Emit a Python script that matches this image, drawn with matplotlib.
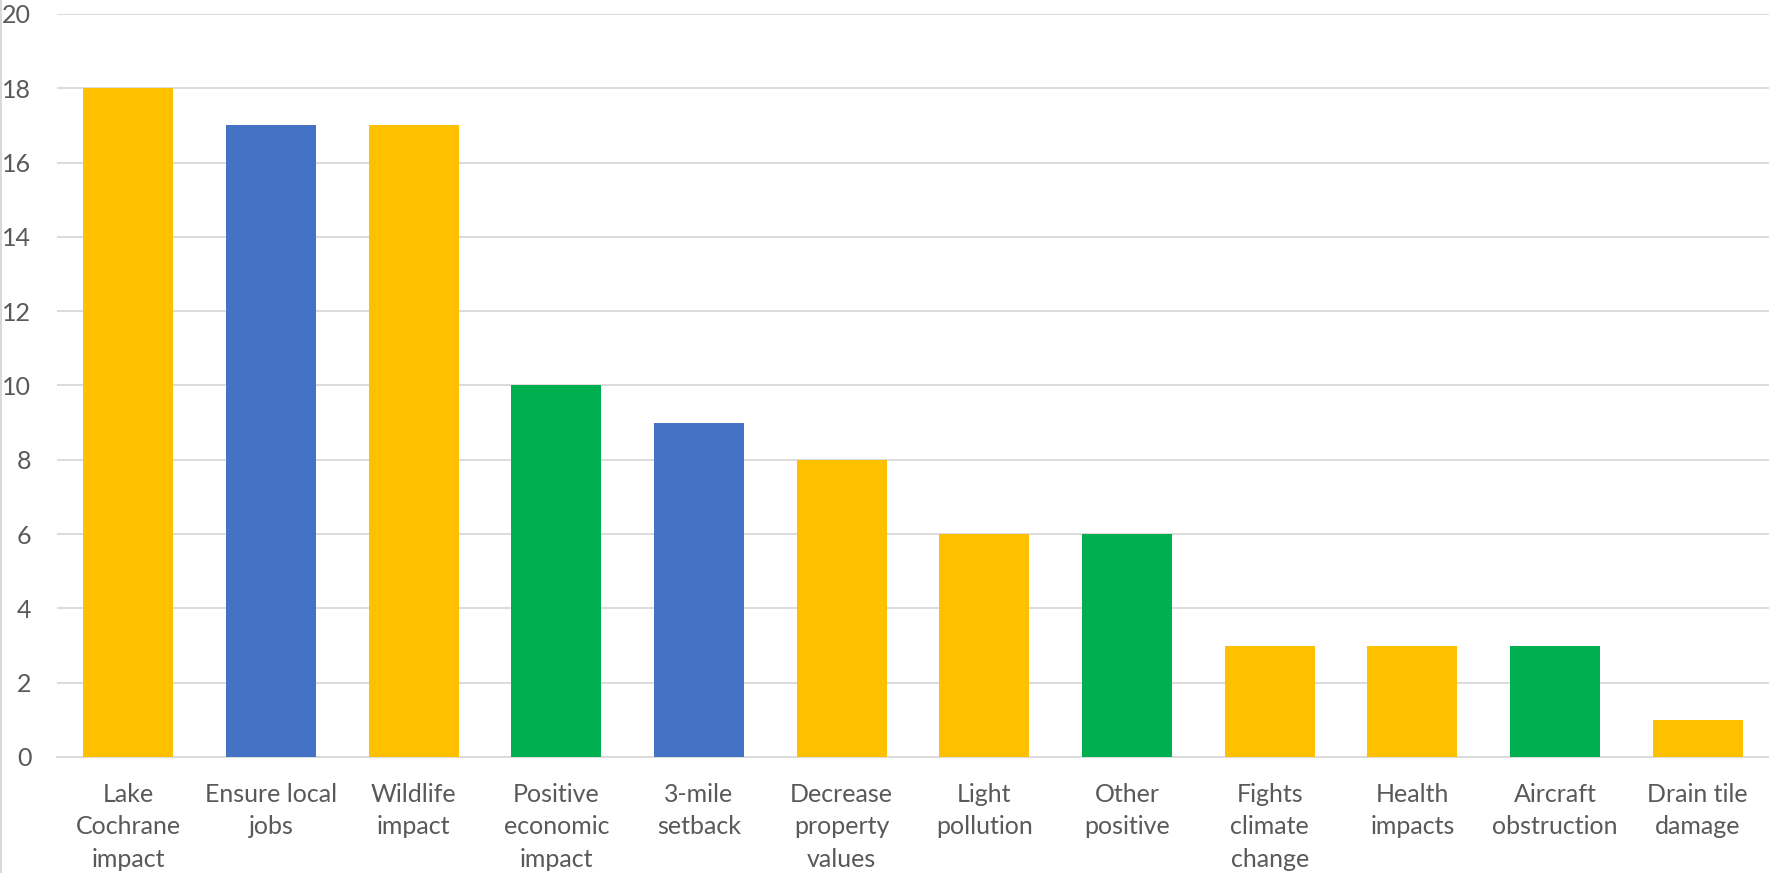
import matplotlib
matplotlib.use("Agg")
import matplotlib.pyplot as plt
from matplotlib.lines import Line2D

categories = ["Lake\nCochrane\nimpact", "Ensure local\njobs", "Wildlife\nimpact",
              "Positive\neconomic\nimpact", "3-mile\nsetback", "Decrease\nproperty\nvalues",
              "Light\npollution", "Other\npositive", "Fights\nclimate\nchange",
              "Health\nimpacts", "Aircraft\nobstruction", "Drain tile\ndamage"]
counts = [18, 17, 17, 10, 9, 8, 6, 6, 3, 3, 3, 1]
groups = ["y", "b", "y", "g", "b", "y", "y", "g", "y", "y", "g", "y"]
group_colors = {"y": "#FFC000", "b": "#4472C4", "g": "#00B050"}

plt.rcParams["font.family"] = ["Lato", "DejaVu Sans"]

fig = plt.figure(figsize=(17.69, 8.73), dpi=100)
ax = fig.add_axes([0.0322, 0.1329, 0.9678, 0.8511])

x = range(len(counts))
ax.bar(x, counts, width=0.63, color=[group_colors[g] for g in groups], zorder=3)

ax.set_xlim(-0.5, len(counts) - 0.5)
ax.set_ylim(0, 20)
ax.set_yticks(range(0, 21, 2))
ax.yaxis.grid(True, color="#D9D9D9", linewidth=1.3, zorder=0)
ax.set_axisbelow(True)

for s in ["top", "right", "left"]:
    ax.spines[s].set_visible(False)
ax.spines["bottom"].set_color("#D9D9D9")
ax.spines["bottom"].set_linewidth(1.3)

ax.set_xticks(list(x))
ax.set_xticklabels(categories, fontsize=18, color="#595959", linespacing=1.5)
ax.tick_params(axis="x", length=0, pad=18.5)
ax.tick_params(axis="y", length=0, pad=18.5, labelsize=18, labelcolor="#595959")

# chart-area border on the left edge
fig.add_artist(Line2D([0.0008, 0.0008], [0, 1], color="#D9D9D9", linewidth=1.5,
                      transform=fig.transFigure))

fig.savefig("out.png", dpi=100)
